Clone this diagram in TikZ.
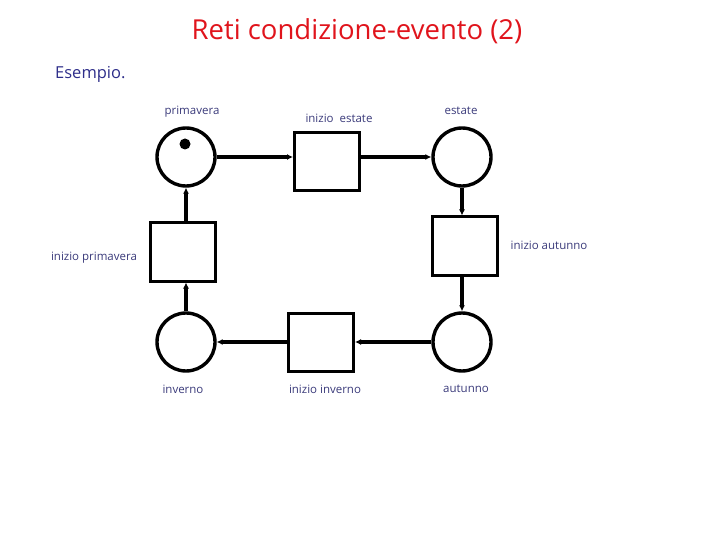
\documentclass[tikz,border=0pt]{standalone}
\usepackage{fontspec}
\setmainfont{Open Sans}
\usetikzlibrary{arrows.meta}
\definecolor{titlered}{HTML}{E0141C}
\definecolor{navy}{HTML}{2E2E8A}
\definecolor{lblue}{HTML}{3A3A7A}
\begin{document}
\begin{tikzpicture}[x=1pt,y=-1pt,
  place/.style={circle,draw,line width=3.4pt,minimum size=58pt,inner sep=0pt},
  trans/.style={rectangle,draw,line width=3pt,minimum width=65pt,minimum height=58pt,inner sep=0pt},
  arcline/.style={line width=3.4pt,-{Latex[length=6pt,width=6pt]}},
  lbl/.style={text=lblue,font=\fontsize{11.5}{13}\selectfont,inner sep=0pt}]
\useasboundingbox (0,0) rectangle (720,540);
\node[text=titlered,font=\fontsize{27.5}{32}\selectfont] (title) at (357,31) {Reti condizione-evento (2)};
\node[text=navy,font=\fontsize{16.5}{20}\selectfont,anchor=west,inner sep=0pt] (es) at (55,74) {Esempio.};

\node[place] (prim) at (186,157) {};
\node[place] (est) at (462,157) {};
\node[place] (inv) at (186,342) {};
\node[place] (aut) at (462,342) {};
\node[trans] (tie) at (327,162) {};
\node[trans] (tip) at (183,252) {};
\node[trans] (tia) at (465,246) {};
\node[trans] (tii) at (321,342) {};
\fill (185,144) circle (5.5pt);

\draw[arcline] (prim) -- (tie.west|-prim);
\draw[arcline] (tie.east|-est) -- (est);
\draw[arcline] (est) -- (est|-tia.north);
\draw[arcline] (est|-tia.south) -- (aut);
\draw[arcline] (aut) -- (tii.east|-aut);
\draw[arcline] (tii) -- (inv);
\draw[arcline] (inv) -- (inv|-tip.south);
\draw[arcline] (inv|-tip.north) -- (prim);

\node[lbl] (l1) at (192,112) {primavera};
\node[lbl] (l2) at (339,118) {inizio\ \ estate};
\node[lbl] (l3) at (461,111) {estate};
\node[lbl] (l4) at (549,245) {inizio autunno};
\node[lbl] (l5) at (94,258) {inizio primavera};
\node[lbl] (l6) at (183,389) {inverno};
\node[lbl] (l7) at (325,389) {inizio inverno};
\node[lbl] (l8) at (466,389) {autunno};
\end{tikzpicture}
\end{document}
